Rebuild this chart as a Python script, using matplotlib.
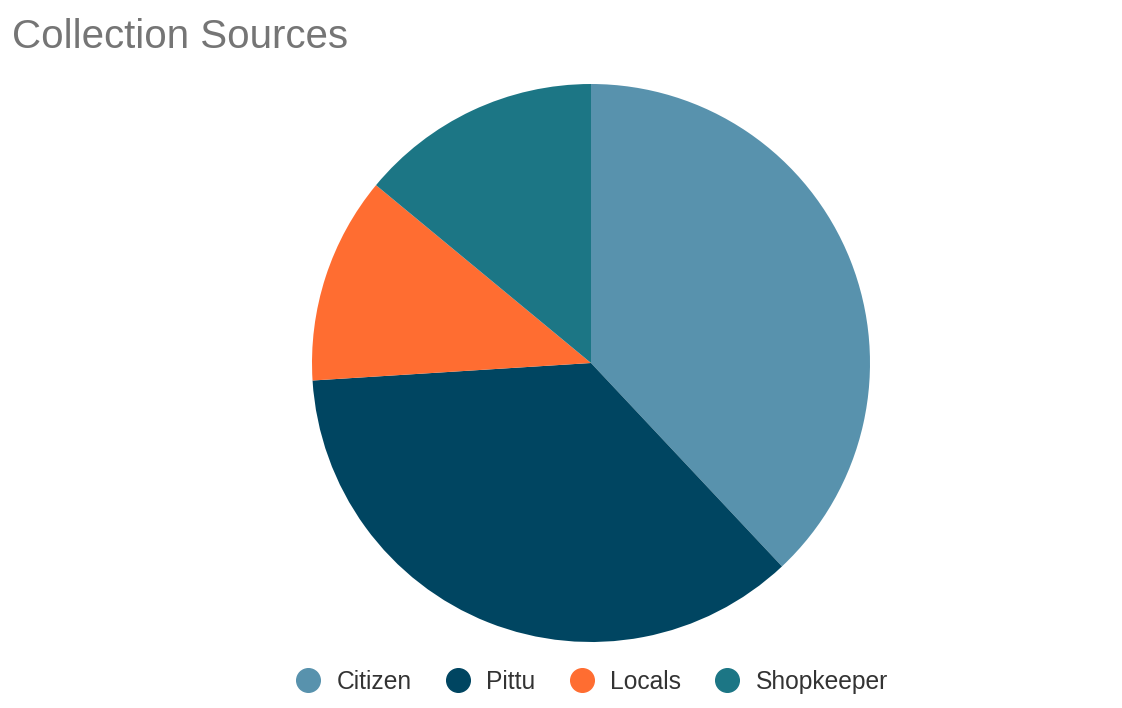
import matplotlib
matplotlib.use("Agg")
import matplotlib.pyplot as plt
from matplotlib.lines import Line2D

labels = ["Citizen", "Pittu", "Locals", "Shopkeeper"]
values = [38, 36, 12, 14]
colors = ["#5892AD", "#004561", "#FF6D31", "#1C7685"]

plt.rcParams["font.family"] = ["Liberation Sans", "DejaVu Sans"]

fig = plt.figure(figsize=(11.22, 7.08), dpi=100)
ax = fig.add_axes([312 / 1122, 66 / 708, 558 / 1122, 558 / 708])
ax.pie(values, colors=colors, startangle=90, counterclock=False,
       wedgeprops=dict(linewidth=0))
ax.set_xlim(-1, 1)
ax.set_ylim(-1, 1)
ax.set_aspect("equal")

fig.text(12 / 1122, 1 - 48 / 708, "Collection Sources", fontsize=29,
         color="#757575", ha="left", va="baseline")

handles = [Line2D([], [], marker="o", linestyle="", markersize=17,
                  markerfacecolor=c, markeredgecolor=c) for c in colors]
fig.legend(handles, labels, loc="center", bbox_to_anchor=(592 / 1122, 1 - 682 / 708),
           ncol=4, frameon=False, fontsize=17.7, handlelength=1.0,
           handletextpad=0.65, columnspacing=1.38, labelcolor="#333333")

fig.savefig("out.png", facecolor="white")
